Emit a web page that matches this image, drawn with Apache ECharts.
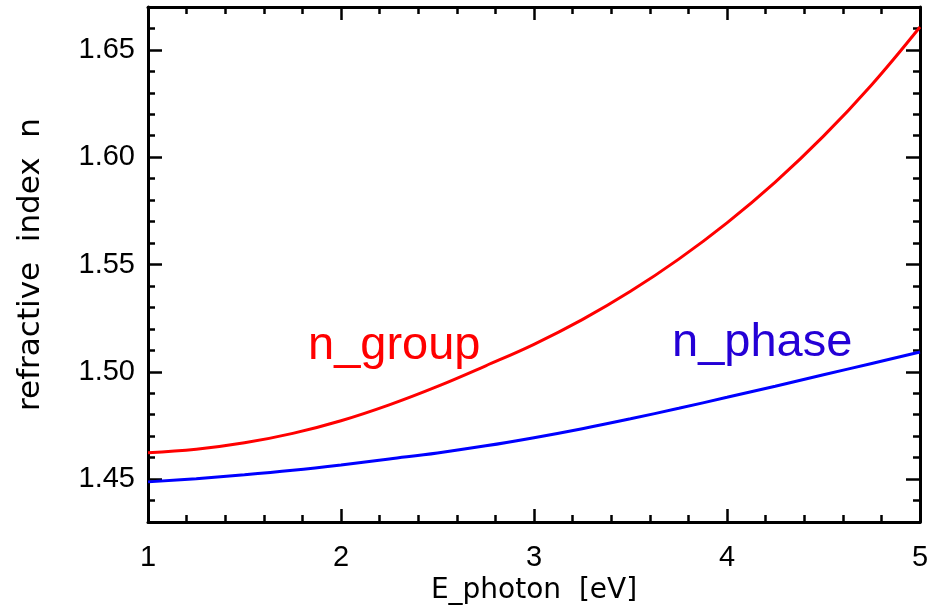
<!DOCTYPE html>
<html>
<head>
<meta charset="utf-8">
<script src="https://cdn.jsdelivr.net/npm/echarts@6/dist/echarts.min.js"></script>
<style>
  html, body { margin: 0; padding: 0; background: #ffffff; }
  #chart { width: 938px; height: 605px; }
</style>
</head>
<body>
<div id="chart"></div>
<script>
// Photon energy samples (eV)
const energy = [1.0, 1.25, 1.5, 1.75, 2.0, 2.25, 2.5, 2.75, 3.0, 3.25, 3.5, 3.75, 4.0, 4.25, 4.5, 4.75, 5.0];
// Group index
const nGroup = [1.4623, 1.4639, 1.4669, 1.4713, 1.4772, 1.4846, 1.4932, 1.5028, 1.5128, 1.5243, 1.5375, 1.5525, 1.5694, 1.5884, 1.6098, 1.6338, 1.6607];
// Phase index
const nPhase = [1.4487, 1.4502, 1.4520, 1.4541, 1.4566, 1.4594, 1.4622, 1.4655, 1.4693, 1.4735, 1.4781, 1.4830, 1.4881, 1.4933, 1.4986, 1.5039, 1.5092];

// Axis ticks
const yMajor = [1.45, 1.50, 1.55, 1.60, 1.65];
const yMinor = [1.44, 1.45, 1.46, 1.47, 1.48, 1.49, 1.50, 1.51, 1.52, 1.53, 1.54, 1.55, 1.56, 1.57, 1.58, 1.59, 1.60, 1.61, 1.62, 1.63, 1.64, 1.65, 1.66];

const pair = (xs, ys) => xs.map((x, i) => [x, ys[i]]);

const AX = '#000000';
const tickFont = 'Liberation Sans';
const titleFont = 'DejaVu Sans';

function xAx(pos, showLabel, name) {
  return {
    type: 'value', position: pos, min: 1, max: 5, interval: 1,
    name: name || '', nameLocation: 'middle', nameGap: 42,
    nameTextStyle: { fontFamily: titleFont, fontSize: 28, color: AX },
    axisLine: { show: true, onZero: false, lineStyle: { color: AX, width: 3 } },
    axisTick: { show: true, inside: true, length: 13, lineStyle: { color: AX, width: 2.5 } },
    minorTick: { show: true, splitNumber: 5, length: 7, lineStyle: { color: AX, width: 2.5 } },
    axisLabel: { show: showLabel, margin: 21, fontFamily: tickFont, fontSize: 29, color: AX,
      formatter: v => String(v) },
    splitLine: { show: false }, minorSplitLine: { show: false }
  };
}

function yAx(pos, major, showLabel, name) {
  return {
    type: 'value', position: pos, min: 1.43, max: 1.67,
    name: name || '', nameLocation: 'middle', nameGap: 102,
    nameTextStyle: { fontFamily: titleFont, fontSize: 31, color: AX },
    axisLine: { show: major, onZero: false, lineStyle: { color: AX, width: 3 } },
    axisTick: { show: true, inside: true, length: major ? 14 : 7,
      customValues: major ? yMajor : yMinor, lineStyle: { color: AX, width: 2.5 } },
    axisLabel: { show: showLabel, margin: 13, fontFamily: tickFont, fontSize: 29, color: AX,
      customValues: yMajor, formatter: v => v.toFixed(2) },
    splitLine: { show: false }
  };
}

const chart = echarts.init(document.getElementById('chart'), null, { renderer: 'canvas' });

chart.setOption({
  backgroundColor: '#ffffff',
  animation: false,
  grid: { left: 148, right: 18, top: 7, bottom: 83, containLabel: false, outerBoundsMode: 'none' },
  xAxis: [
    xAx('bottom', true, 'E_photon  [eV]'),
    xAx('top', false)
  ],
  yAxis: [
    yAx('left', true, true, 'refractive  index  n'),
    yAx('left', false, false),
    yAx('right', true, false),
    yAx('right', false, false)
  ],
  series: [
    {
      name: 'n_group', type: 'line', xAxisIndex: 0, yAxisIndex: 0,
      data: pair(energy, nGroup), smooth: 0.4, showSymbol: false,
      lineStyle: { color: '#ff0000', width: 3 }, z: 3
    },
    {
      name: 'n_phase', type: 'line', xAxisIndex: 0, yAxisIndex: 0,
      data: pair(energy, nPhase), smooth: 0.4, showSymbol: false,
      lineStyle: { color: '#0000ff', width: 3 }, z: 3
    }
  ],
  graphic: [
    { type: 'text', left: 308, top: 323,
      style: { text: 'n_group', fill: '#ff0000', font: '47px "Liberation Sans"' } },
    { type: 'text', left: 672, top: 320,
      style: { text: 'n_phase', fill: '#2400d6', font: '47px "Liberation Sans"' } }
  ]
});
</script>
</body>
</html>
